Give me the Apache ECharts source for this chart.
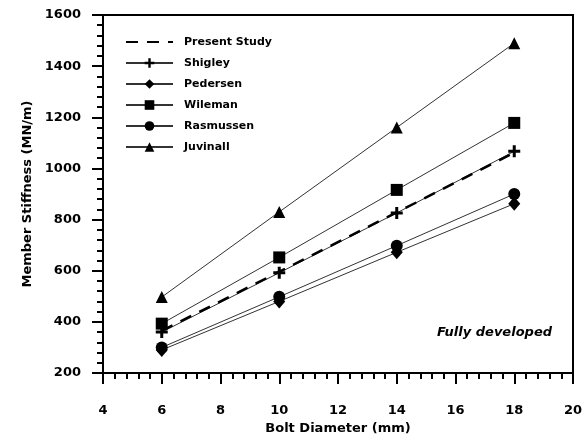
<!DOCTYPE html>
<html>
<head>
<meta charset="utf-8">
<script src="https://cdn.jsdelivr.net/npm/echarts@6/dist/echarts.min.js"></script>
<style>
  html, body { margin: 0; padding: 0; background: #fff; }
  #chart { width: 588px; height: 434px; }
</style>
</head>
<body>
<div id="chart"></div>
<script>
// bolt diameters (mm)
const diameters = [6, 10, 14, 18];

// member stiffness (MN/m)
const presentStudy = [365, 596, 828, 1062];
const shigley = [360, 592, 826, 1067];
const pedersen = [290, 480, 672, 862];
const wileman = [393, 652, 916, 1178];
const rasmussen = [300, 498, 698, 900];
const juvinall = [497, 830, 1160, 1490];

const FONT = "DejaVu Sans";
const plusPath = "path://M4.5,0H7.5V4.5H12V7.5H7.5V12H4.5V7.5H0V4.5H4.5Z";

function pairs(ys) {
  return diameters.map((x, i) => [x, ys[i]]);
}

function markerSeries(name, ys, symbol, size) {
  return {
    name: name,
    type: "line",
    data: pairs(ys),
    symbol: symbol,
    symbolSize: size,
    showAllSymbol: true,
    lineStyle: { color: "#333", width: 1 },
    itemStyle: { color: "#000" },
    z: 3,
  };
}

const chart = echarts.init(document.getElementById("chart"));

chart.setOption({
  animation: false,
  backgroundColor: "#fff",
  grid: {
    left: 103,
    right: 15,
    top: 15,
    bottom: 61,
    containLabel: false,
    outerBoundsMode: "none",
    show: true,
    borderColor: "#000",
    borderWidth: 2,
  },
  legend: {
    orient: "vertical",
    left: 120,
    top: 31,
    itemWidth: 47,
    itemHeight: 12,
    itemGap: 9,
    textStyle: {
      fontFamily: FONT,
      fontWeight: "bold",
      fontSize: 11,
      color: "#000",
      lineHeight: 12,
      padding: [0, 0, 0, 6],
    },
    data: [
      { name: "Present Study", itemStyle: { opacity: 0 } },
      "Shigley", "Pedersen", "Wileman", "Rasmussen", "Juvinall",
    ],
  },
  xAxis: {
    type: "value",
    min: 4,
    max: 20,
    interval: 2,
    name: "Bolt Diameter (mm)",
    nameLocation: "middle",
    nameGap: 46,
    nameTextStyle: { fontFamily: FONT, fontWeight: "bold", fontSize: 13, color: "#000" },
    axisLine: { lineStyle: { color: "#000", width: 2 } },
    axisTick: { length: 11, lineStyle: { color: "#000", width: 2 } },
    minorTick: { show: true, splitNumber: 5, length: 6, lineStyle: { color: "#000", width: 2 } },
    axisLabel: { margin: 31, fontFamily: FONT, fontWeight: "bold", fontSize: 13, color: "#000" },
    splitLine: { show: false },
  },
  yAxis: {
    type: "value",
    min: 200,
    max: 1600,
    interval: 200,
    name: "Member Stiffness (MN/m)",
    nameLocation: "middle",
    nameGap: 58,
    nameTextStyle: { fontFamily: FONT, fontWeight: "bold", fontSize: 13, color: "#000" },
    axisLine: { lineStyle: { color: "#000", width: 2 } },
    axisTick: { length: 11, lineStyle: { color: "#000", width: 2 } },
    minorTick: { show: true, splitNumber: 5, length: 6, lineStyle: { color: "#000", width: 2 } },
    axisLabel: {
      margin: 22,
      fontFamily: FONT,
      fontWeight: "bold",
      fontSize: 13,
      color: "#000",
      formatter: (v) => String(v),
    },
    splitLine: { show: false },
  },
  graphic: [
    {
      type: "text",
      right: 36,
      top: 326,
      style: {
        text: "Fully developed",
        fontFamily: FONT,
        fontWeight: "bold",
        fontStyle: "italic",
        fontSize: 13,
        fill: "#000",
      },
    },
  ],
  series: [
    markerSeries("Shigley", shigley, plusPath, 12),
    markerSeries("Pedersen", pedersen, "diamond", [12, 14]),
    markerSeries("Wileman", wileman, "rect", 12),
    markerSeries("Rasmussen", rasmussen, "circle", 12),
    markerSeries("Juvinall", juvinall, "triangle", 12),
    {
      name: "Present Study",
      type: "line",
      data: pairs(presentStudy),
      symbol: "none",
      lineStyle: { color: "#000", width: 2.5, type: [12, 9] },
      itemStyle: { color: "#000" },
      z: 4,
    },
  ],
});
</script>
</body>
</html>
